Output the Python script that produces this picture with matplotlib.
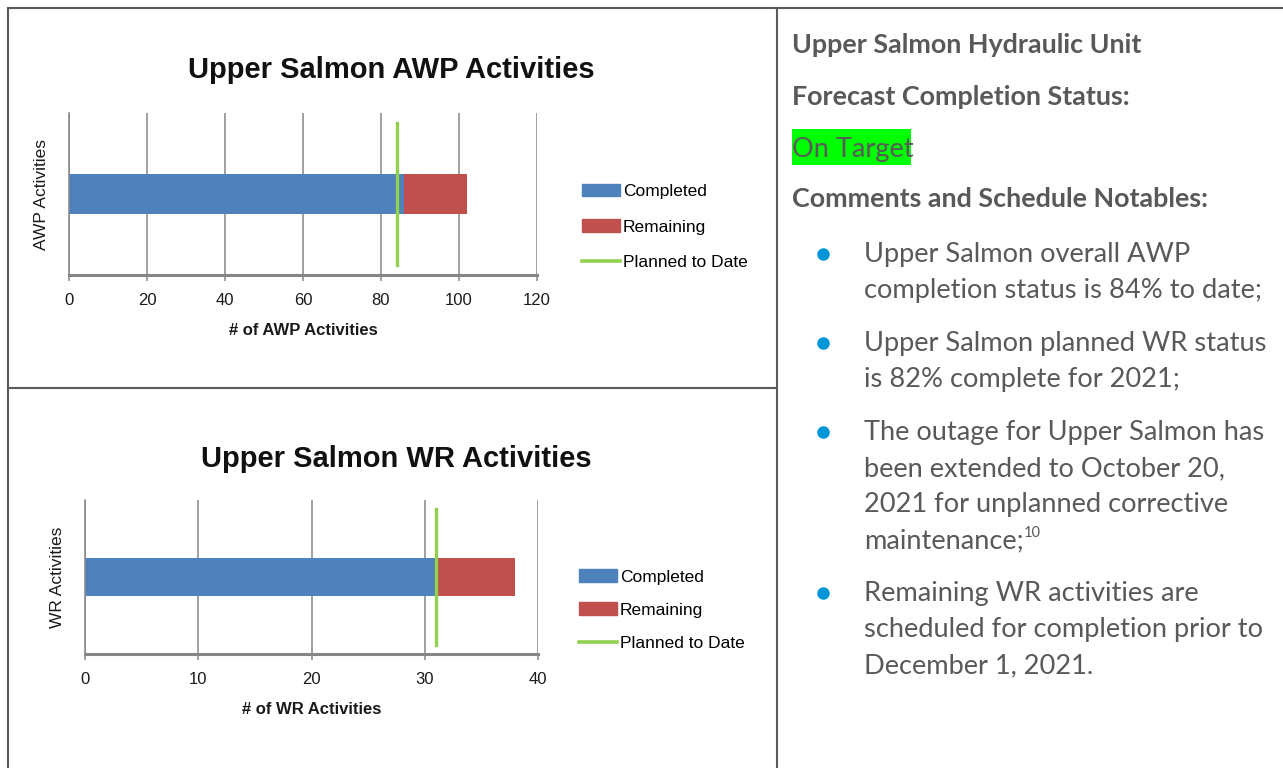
"""Upper Salmon status panel: two stacked bar charts on the left, notes on the right."""

import matplotlib
matplotlib.use("Agg")
import matplotlib.pyplot as plt
from matplotlib.lines import Line2D
from matplotlib.patches import Patch, Rectangle

W, H = 1283, 768

# --- data ---
AWP_COMPLETED = [86]
AWP_REMAINING = [16]
AWP_PLANNED = 84
AWP_TICKS = [0, 20, 40, 60, 80, 100, 120]

WR_COMPLETED = [31]
WR_REMAINING = [7]
WR_PLANNED = 31
WR_TICKS = [0, 10, 20, 30, 40]

SERIES = ["Completed", "Remaining", "Planned to Date"]

BULLETS = [
    ["Upper Salmon overall AWP", "completion status is 84% to date;"],
    ["Upper Salmon planned WR status", "is 82% complete for 2021;"],
    ["The outage for Upper Salmon has", "been extended to October 20,",
     "2021 for unplanned corrective", "maintenance;"],
    ["Remaining WR activities are", "scheduled for completion prior to",
     "December 1, 2021."],
]

BLUE = "#4F81BD"
RED = "#C0504D"
GREEN = "#92D050"
GRID = "#868686"
BORDER = "#5a5a5a"
TXT = "#595959"
CHART_FONT = "Liberation Sans"
NOTE_FONT = "Lato"


def fx(x):
    return x / W


def fy(y):
    return 1 - y / H


def bar_chart(fig, box, completed, remaining, planned, ticks, title, title_xy,
              xlabel, ylabel, ylabel_x, legend_xy, legend_gap):
    left, top, right, bottom = box
    ax = fig.add_axes([fx(left), fy(bottom), (right - left) / W, (bottom - top) / H])
    y = [0]
    ax.barh(y, completed, height=0.5, color=BLUE, zorder=2)
    ax.barh(y, remaining, left=completed, height=0.5, color=RED, zorder=2)
    ax.axvline(planned, ymin=0.06, ymax=0.94, color=GREEN, lw=2.4, zorder=3)

    ax.set_xlim(ticks[0], ticks[-1])
    ax.set_ylim(-1, 1)
    ax.set_xticks(ticks)
    ax.set_yticks([])
    ax.grid(axis="x", color=GRID, lw=1.1)
    ax.set_axisbelow(True)
    for s in ("top", "right"):
        ax.spines[s].set_visible(False)
    ax.spines["left"].set_color(GRID)
    ax.spines["left"].set_linewidth(1.1)
    ax.spines["bottom"].set_color(GRID)
    ax.spines["bottom"].set_linewidth(2.2)
    ax.tick_params(axis="x", direction="out", length=4, width=1.1, color=GRID,
                   pad=9, labelsize=12, labelcolor="#1a1a1a")
    for lab in ax.get_xticklabels():
        lab.set_fontfamily(CHART_FONT)

    ax.set_xlabel(xlabel, fontsize=12, fontweight="bold", family=CHART_FONT,
                  labelpad=11, color="#1a1a1a")
    ax.set_ylabel(ylabel, fontsize=12.5, family=CHART_FONT, va="center", color="#1a1a1a")
    ax.yaxis.set_label_coords((ylabel_x - left) / (right - left), 0.5)

    fig.text(fx(title_xy[0]), fy(title_xy[1]), title, ha="center", va="center",
             fontsize=21, fontweight="bold", family=CHART_FONT, color="#111111")

    handles = [Patch(color=BLUE, label=SERIES[0]),
               Patch(color=RED, label=SERIES[1]),
               Line2D([], [], color=GREEN, lw=2.6, label=SERIES[2])]
    ax.legend(handles=handles, loc="center left",
              bbox_to_anchor=(fx(legend_xy[0]), fy(legend_xy[1])),
              bbox_transform=fig.transFigure, frameon=False, borderpad=0,
              borderaxespad=0, handlelength=2.2, handleheight=0.7,
              handletextpad=0.15, labelspacing=legend_gap,
              prop={"family": CHART_FONT, "size": 12.5})
    return ax


fig = plt.figure(figsize=(W / 100, H / 100), dpi=100, facecolor="white")

# table borders
for xs, ys in [((8, W), (8, 8)), ((8, 8), (8, H)), ((777, 777), (8, H)), ((8, 777), (388, 388))]:
    fig.add_artist(Line2D([fx(x) for x in xs], [fy(y) for y in ys], color=BORDER,
                          lw=1.5, transform=fig.transFigure))

bar_chart(fig, (69, 113, 537, 275), AWP_COMPLETED, AWP_REMAINING, AWP_PLANNED,
          AWP_TICKS, "Upper Salmon AWP Activities", (391, 70),
          "# of AWP Activities", "AWP Activities", 41.5, (582, 227), 1.15)
bar_chart(fig, (85, 500, 538, 654), WR_COMPLETED, WR_REMAINING, WR_PLANNED,
          WR_TICKS, "Upper Salmon WR Activities", (396, 459),
          "# of WR Activities", "WR Activities", 58, (579, 610), 1.03)

# --- notes column ---
head = dict(family=NOTE_FONT, fontweight="bold", fontsize=19.4, color=TXT, va="baseline")
body = dict(family=NOTE_FONT, fontsize=19.6, color=TXT, va="baseline")

fig.text(fx(792), fy(53), "Upper Salmon Hydraulic Unit", **head)
fig.text(fx(792), fy(105), "Forecast Completion Status:", **head)
fig.add_artist(Rectangle((fx(792), fy(165)), (911 - 792) / W, 36 / H,
                         facecolor="#00FF00", edgecolor="none", transform=fig.transFigure))
fig.text(fx(792), fy(157), "On Target", **body)
fig.text(fx(792), fy(207), "Comments and Schedule Notables:", **head)

baseline = 262
for lines in BULLETS:
    fig.add_artist(Line2D([fx(822.5)], [fy(baseline - 8)], marker="o", markersize=8,
                          color="#0096D6", transform=fig.transFigure))
    for line in lines:
        fig.text(fx(864), fy(baseline), line, **body)
        baseline += 36
    baseline += 17

# footnote marker after "maintenance;"
renderer = fig.canvas.get_renderer()
note_line = [t for t in fig.texts if t.get_text() == "maintenance;"][0]
bb = note_line.get_window_extent(renderer=renderer)
fig.text(bb.x1 / W, fy(537), "10", family=NOTE_FONT, fontsize=10.5,
         color=TXT, va="baseline")

fig.savefig("out.png", dpi=100, facecolor="white")
